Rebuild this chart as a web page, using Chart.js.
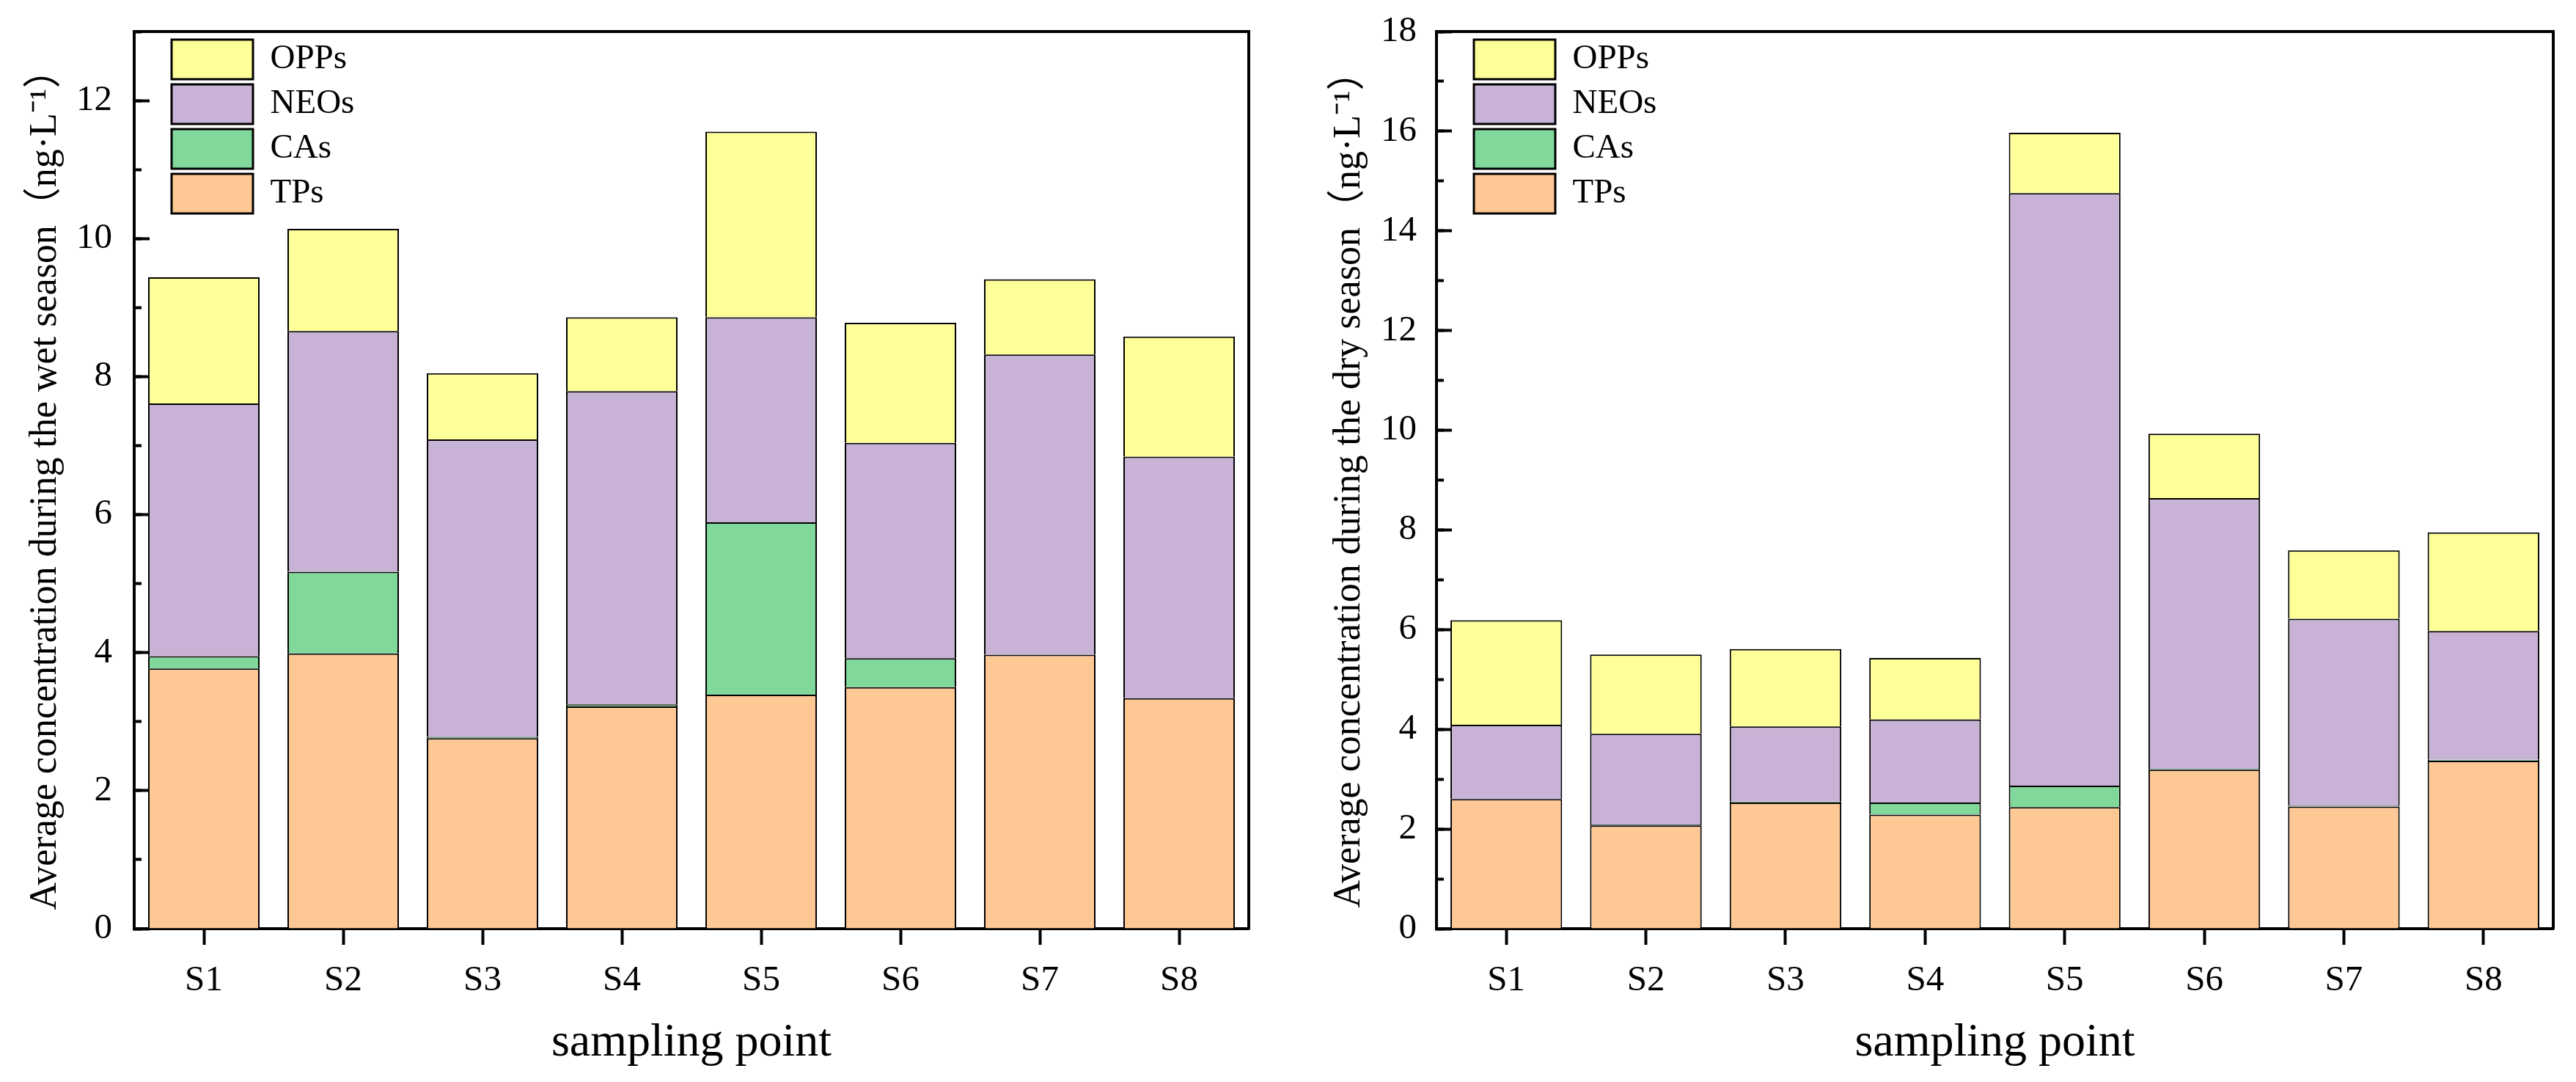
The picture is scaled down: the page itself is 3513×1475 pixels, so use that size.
<!DOCTYPE html>
<html>
<head>
<meta charset="utf-8">
<script src="https://cdn.jsdelivr.net/npm/chart.js@4.4.1/dist/chart.umd.min.js"></script>
<style>
html,body{margin:0;padding:0;background:#fff;width:3513px;height:1475px;overflow:hidden}
canvas{position:absolute;top:0}
#c1{left:0}
#c2{left:1760px}
</style>
</head>
<body>
<canvas id="c1" width="1760" height="1475"></canvas>
<canvas id="c2" width="1753" height="1475"></canvas>
<script>
// ---------- data ----------
const categories = ['S1','S2','S3','S4','S5','S6','S7','S8'];
const seriesNames = ['TPs','CAs','NEOs','OPPs'];
const seriesColors = ['#FEC895','#80D89A','#C8B3D6','#FFFF99'];

const wetTPs  = [3.77, 3.99, 2.76, 3.22, 3.39, 3.50, 3.97, 3.34];
const wetCAs  = [0.18, 1.18, 0.02, 0.03, 2.50, 0.42, 0.00, 0.00];
const wetNEOs = [3.66, 3.49, 4.31, 4.54, 2.97, 3.12, 4.35, 3.50];
const wetOPPs = [1.83, 1.48, 0.96, 1.07, 2.69, 1.74, 1.09, 1.74];

const dryTPs  = [2.60, 2.07, 2.53, 2.29, 2.44, 3.19, 2.45, 3.37];
const dryCAs  = [0.00, 0.02, 0.02, 0.24, 0.43, 0.02, 0.02, 0.02];
const dryNEOs = [1.49, 1.82, 1.51, 1.67, 11.89, 5.43, 3.75, 2.58];
const dryOPPs = [2.10, 1.59, 1.55, 1.23, 1.21, 1.29, 1.37, 1.98];

const wetTicks = [0, 2, 4, 6, 8, 10, 12];
const dryTicks = [0, 2, 4, 6, 8, 10, 12, 14, 16, 18];
const wetYMax = 13;
const dryYMax = 18;
const xTitle = 'sampling point';
const wetYTitle = 'Average concentration during the wet season\uFF08ng\u00B7L\u207B\u00B9\uFF09';
const dryYTitle = 'Average concentration during the dry season\uFF08ng\u00B7L\u207B\u00B9\uFF09';

// ---------- chart ----------
const FONT = "'Liberation Serif', 'Times New Roman', 'Noto Sans CJK SC', serif";

const legendPlace = {
  id: 'legendPlace',
  afterLayout(chart) {
    const lg = chart.legend, ca = chart.chartArea;
    if (!lg) return;
    lg.left = ca.left + 44;
    lg.top = ca.top + 4;
    lg.right = ca.right;
    lg.bottom = ca.bottom;
  }
};

function makeChart(canvasId, seriesList, yMax, majorTicks, yTitle, cfg) {
  const datasets = seriesList.map((vals, i) => ({
    label: seriesNames[i],
    data: vals,
    backgroundColor: seriesColors[i],
    borderColor: '#000',
    borderWidth: 2,
    barPercentage: 0.8,
    categoryPercentage: 1.0
  }));
  return new Chart(document.getElementById(canvasId), {
    type: 'bar',
    data: { labels: categories, datasets },
    plugins: [legendPlace],
    options: {
      responsive: false,
      animation: false,
      devicePixelRatio: 1,
      layout: { padding: { left: 0, right: cfg.padRight, top: 43, bottom: 0 } },
      plugins: {
        tooltip: { enabled: false },
        legend: {
          position: 'chartArea',
          align: 'start',
          reverse: true,
          labels: {
            boxWidth: 111,
            boxHeight: 54,
            padding: 7,
            color: '#000',
            font: { family: FONT, size: 47 },
            generateLabels(chart) {
              return Chart.defaults.plugins.legend.labels.generateLabels(chart)
                .map(l => Object.assign(l, { lineWidth: 3, strokeStyle: '#000' }));
            }
          }
        }
      },
      scales: {
        x: {
          stacked: true,
          position: 'bottom',
          z: 2,
          grid: { offset: false, drawOnChartArea: false, drawTicks: true, tickLength: 22, tickWidth: 4, color: '#000' },
          border: { display: true, color: '#000', width: 4 },
          ticks: { color: '#000', padding: 20, font: { family: FONT, size: 49 }, maxRotation: 0 },
          title: { display: true, text: xTitle, color: '#000', font: { family: FONT, size: 64 }, padding: { top: 0, bottom: 14 } },
          afterFit(s) { s.height = 209; s.paddingLeft = 0; s.paddingRight = 0; }
        },
        y: {
          stacked: true,
          position: 'left',
          weight: 2,
          z: 2,
          min: 0,
          max: yMax,
          afterBuildTicks(s) { s.ticks = majorTicks.map(v => ({ value: v })); },
          grid: { drawOnChartArea: false, drawTicks: true, tickLength: -21, tickWidth: 4, color: '#000' },
          border: { display: true, color: '#000', width: 4 },
          ticks: { color: '#000', padding: cfg.tickPad, font: { family: FONT, size: 49 } },
          title: { display: true, text: yTitle, color: '#000', font: { family: FONT, size: 52 }, padding: { top: cfg.titlePad, bottom: 0 } },
          afterFit(s) { s.width = cfg.yWidth; s.paddingTop = 0; s.paddingBottom = 0; }
        },
        yMinor: {
          type: 'linear',
          position: 'left',
          weight: 0,
          z: 2,
          min: 0,
          max: yMax,
          ticks: { display: false, stepSize: 1, includeBounds: false },
          grid: { drawOnChartArea: false, drawTicks: true, tickLength: -10, tickWidth: 4, color: '#000' },
          border: { display: false },
          afterFit(s) { s.width = 0; s.paddingTop = 0; s.paddingBottom = 0; }
        },
        xTop: {
          type: 'linear',
          position: 'top',
          z: 2,
          min: 0, max: 1,
          ticks: { display: false },
          grid: { drawOnChartArea: false, drawTicks: false },
          border: { display: true, color: '#000', width: 4 },
          afterFit(s) { s.height = 0; s.paddingLeft = 0; s.paddingRight = 0; }
        },
        yRight: {
          type: 'linear',
          position: 'right',
          z: 2,
          min: 0, max: 1,
          ticks: { display: false },
          grid: { drawOnChartArea: false, drawTicks: false },
          border: { display: true, color: '#000', width: 4 },
          afterFit(s) { s.width = 0; s.paddingTop = 0; s.paddingBottom = 0; }
        }
      }
    }
  });
}

makeChart('c1', [wetTPs, wetCAs, wetNEOs, wetOPPs], wetYMax, wetTicks, wetYTitle,
  { padRight: 57, yWidth: 183, titlePad: 31, tickPad: 51 });
makeChart('c2', [dryTPs, dryCAs, dryNEOs, dryOPPs], dryYMax, dryTicks, dryYTitle,
  { padRight: 31, yWidth: 199, titlePad: 49, tickPad: 48 });
</script>
</body>
</html>
